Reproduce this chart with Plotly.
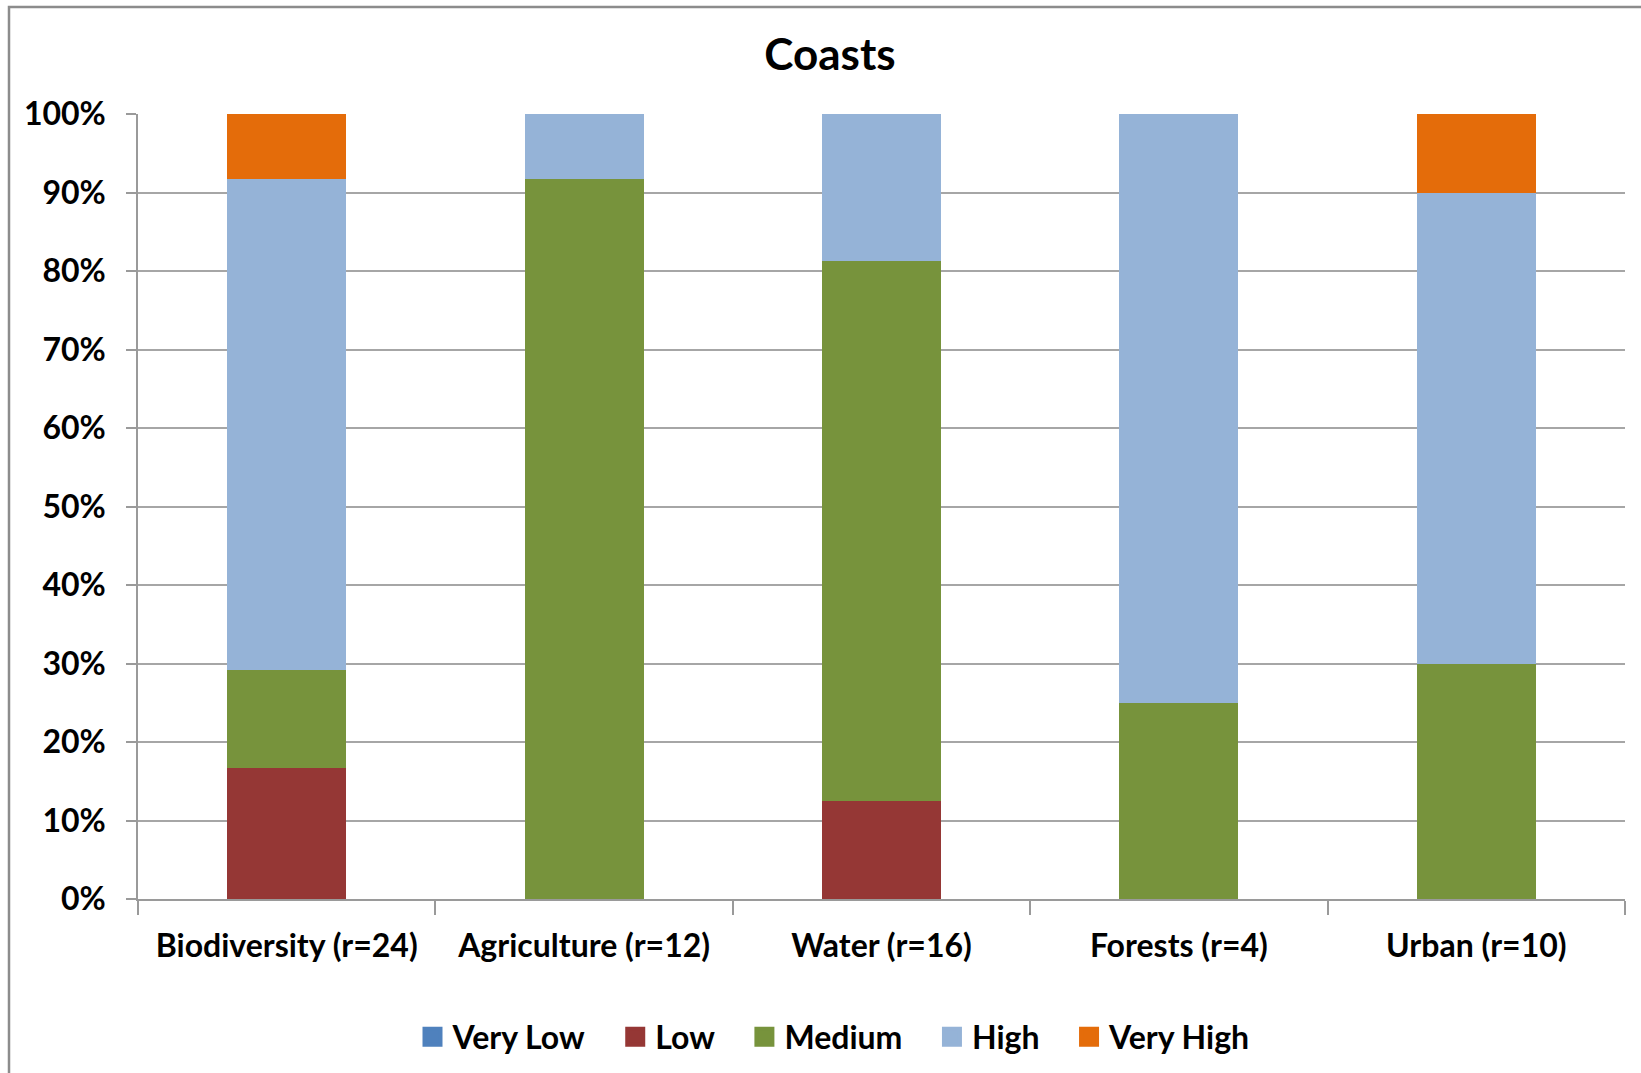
import plotly.graph_objects as go

# Number of responses per rating level in each sector (r = total responses)
categories = ["Biodiversity (r=24)", "Agriculture (r=12)", "Water (r=16)",
              "Forests (r=4)", "Urban (r=10)"]
very_low = [0, 0, 0, 0, 0]
low = [4, 0, 2, 0, 0]
medium = [3, 11, 11, 1, 3]
high = [15, 1, 3, 3, 6]
very_high = [2, 0, 0, 0, 1]

series_names = ["Very Low", "Low", "Medium", "High", "Very High"]
series_values = [very_low, low, medium, high, very_high]
series_colors = ["#4F81BD", "#953735", "#77933C", "#95B3D7", "#E46C0A"]
y_tick_vals = [0, 10, 20, 30, 40, 50, 60, 70, 80, 90, 100]
y_tick_text = [f"<b>{v}%</b>" for v in y_tick_vals]

FONT = "Lato, Calibri, 'Liberation Sans Narrow', sans-serif"
TXT = 32

fig = go.Figure()
# Stacked bars (normalised to 100% per sector)
for name, vals, color in zip(series_names, series_values, series_colors):
    fig.add_trace(go.Bar(
        name=name, x=categories, y=vals, showlegend=False,
        marker=dict(color=color, line=dict(width=0)),
    ))
# Legend entries with large square swatches
for i, (name, color) in enumerate(zip(series_names, series_colors)):
    pad = "&nbsp;&nbsp;&nbsp;" if i < len(series_names) - 1 else ""
    fig.add_trace(go.Scatter(
        name=f"<b>{name}</b>{pad}", x=[None], y=[None], mode="markers",
        marker=dict(symbol="square", size=16, color=color,
                    line=dict(color=color, width=4)),
        hoverinfo="skip",
    ))

W, H = 1641, 1073
left, right, top, bottom = 138, 16, 114, 174
pw, ph = W - left - right, H - top - bottom

fig.update_layout(
    width=W, height=H,
    barmode="stack", barnorm="percent", bargap=0.6,
    paper_bgcolor="white", plot_bgcolor="white",
    margin=dict(l=left, r=right, t=top, b=bottom, pad=0),
    font=dict(family=FONT, color="black", size=TXT),
    title=dict(text="<b>Coasts</b>", x=830 / W, xanchor="center",
               y=1 - 55 / H, yanchor="middle",
               font=dict(family=FONT, size=44, color="black")),
    legend=dict(orientation="h", x=834 / W, xref="container", xanchor="center",
                y=1 - 1037 / H, yref="container", yanchor="middle",
                font=dict(family=FONT, size=TXT, color="black"),
                itemwidth=30, traceorder="normal"),
    showlegend=True,
)

fig.update_xaxes(
    type="category", tickson="boundaries",
    ticks="outside", ticklen=14, tickcolor="#9a9a9a", tickwidth=1.5,
    showline=True, linecolor="#9a9a9a", linewidth=1.5,
    showgrid=False,
    tickvals=categories, ticktext=[f"<b>{c}</b>" for c in categories],
    tickfont=dict(family=FONT, size=TXT, color="black"),
    ticklabelstandoff=18,
)
fig.update_yaxes(
    range=[0, 100], tickvals=y_tick_vals, ticktext=y_tick_text,
    ticks="outside", ticklen=10, tickcolor="#9a9a9a", tickwidth=1.5,
    showline=True, linecolor="#9a9a9a", linewidth=1.5,
    showgrid=True, gridcolor="#a6a6a6", gridwidth=1.5,
    zeroline=False,
    tickfont=dict(family=FONT, size=TXT, color="black"),
    ticklabelstandoff=14,
)

# Chart frame, partly running off the page on the right and bottom
fig.add_shape(
    type="rect", xref="paper", yref="paper",
    x0=(9 - left) / pw, x1=(W + 20 - left) / pw,
    y0=-(bottom + 20) / ph, y1=(H - bottom - 7) / ph,
    line=dict(color="#8c8c8c", width=2.5), fillcolor="rgba(0,0,0,0)",
    layer="below",
)

fig.write_html("out.html")
